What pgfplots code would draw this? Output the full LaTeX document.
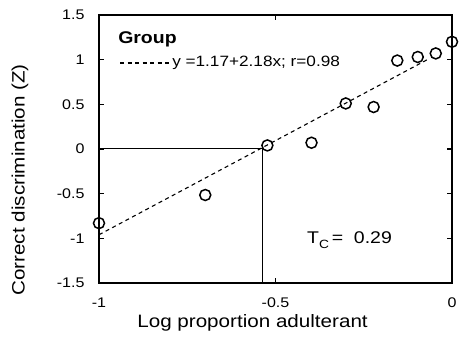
\documentclass[border=0pt]{standalone}
\usepackage{pgfplots}
\pgfplotsset{compat=1.18}
\usepackage{fontspec}
\setmainfont{Liberation Sans}[FakeStretch=1.15]
\begin{document}
\begin{tikzpicture}
\path[use as bounding box] (-99bp,-62bp) rectangle (360bp,283bp);
\begin{axis}[
  at={(0,0)}, anchor=south west,
  width=353bp, height=268bp, scale only axis,
  xmin=-1, xmax=0, ymin=-1.5, ymax=1.5,
  xtick={-1,-0.5,0}, ytick={-1.5,-1,-0.5,0,0.5,1,1.5},
  xticklabels={-1,-0.5,0},
  yticklabels={-1.5,-1,-0.5,0,0.5,1,1.5},
  tick align=inside, major tick length=5bp,
  tick style={line width=1.3bp, black},
  axis line style={line width=1.5bp},
  minor tick num=0,
  ticklabel style={font=\fontsize{14}{16}\selectfont},
  xticklabel style={yshift=-11bp},
  yticklabel style={xshift=-11bp},
  xlabel={Log proportion adulterant},
  ylabel={Correct discrimination (Z)},
  label style={font=\fontsize{18}{20}\selectfont},
  xlabel style={at={(axis description cs:0.435,-0.148)}, anchor=center},
  ylabel style={at={(axis description cs:-0.224,0.385)}, anchor=center},
  clip=false,
  /pgf/number format/assume math mode=true,
]
% reference lines (threshold)
\addplot[black, line width=1bp] coordinates {(-1,0) (-0.537,0) (-0.537,-1.5)};
% fitted line
\addplot[black, line width=1.1bp, dash pattern=on 4bp off 3.5bp] coordinates {(-1,-0.96) (-0.07,1.0)};
% data
\addplot[only marks, mark=o, mark size=5.5bp, mark options={line width=1.5bp, black, fill=white}] coordinates {
(-1,-0.83) (-0.699,-0.515) (-0.523,0.04) (-0.398,0.07) (-0.301,0.51)
(-0.222,0.47) (-0.155,0.99) (-0.097,1.03) (-0.046,1.07) (0,1.2)};
% legend
\node[anchor=west, font=\fontsize{17}{19}\selectfont\bfseries, inner sep=0pt] at (axis cs:-0.946,1.231) {Group};
\draw[black, line width=1.1bp, dash pattern=on 4bp off 3.5bp] (axis cs:-0.94,0.963) -- (axis cs:-0.795,0.963);
\node[anchor=west, font=\fontsize{15}{17}\selectfont, inner sep=0pt] at (axis cs:-0.793,0.963) {y =1.17+2.18x; r=0.98};
\node[anchor=west, font=\fontsize{17}{19}\selectfont, inner sep=0pt] at (axis cs:-0.411,-1.019) {T\raisebox{-5.5bp}{\fontsize{12}{12}\selectfont C}\,= \ 0.29};
\end{axis}
\end{tikzpicture}
\end{document}
